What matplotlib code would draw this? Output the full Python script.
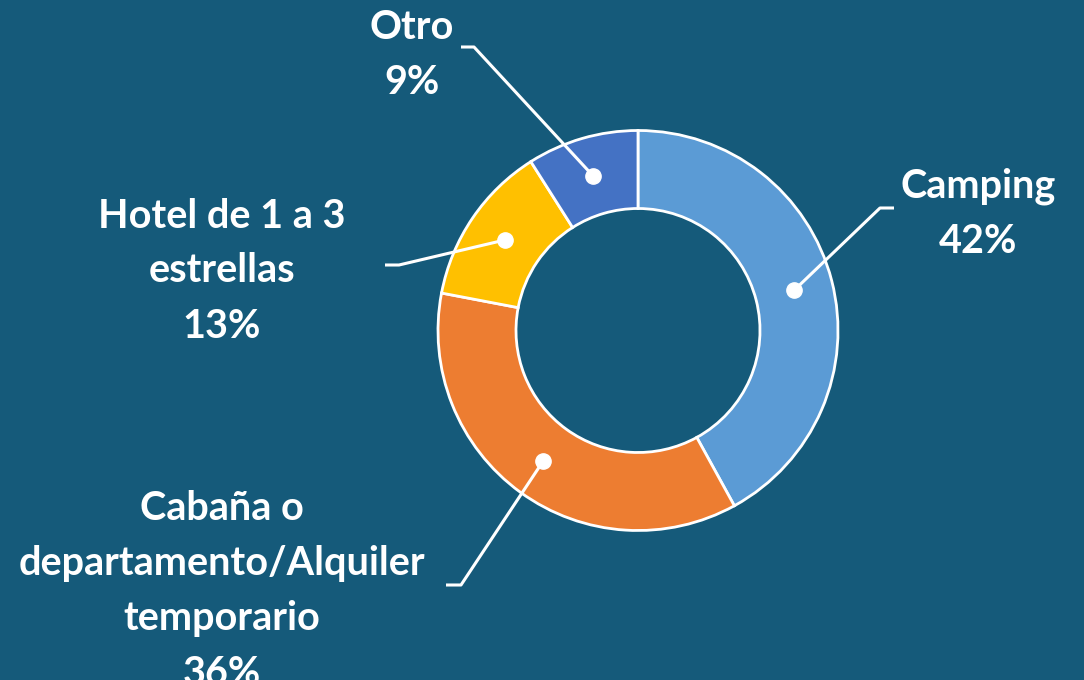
import numpy as np
import matplotlib
matplotlib.use("Agg")
import matplotlib.pyplot as plt

# data
labels = ["Camping", "Cabaña o\ndepartamento/Alquiler\ntemporario", "Hotel de 1 a 3\nestrellas", "Otro"]
values = [42, 36, 13, 9]
colors = ["#5B9BD5", "#ED7D31", "#FFC000", "#4472C4"]

bg = "#155A7A"
W, H = 1084, 680

fig = plt.figure(figsize=(W / 100, H / 100), dpi=100, facecolor=bg)
ax = fig.add_axes([0, 0, 1, 1])
ax.set_facecolor(bg)

cx, cy = 638, H - 330.5
R = 200
ring = 78

wedges, _ = ax.pie(values, colors=colors, startangle=90, counterclock=False,
                   center=(cx, cy), radius=R,
                   wedgeprops=dict(width=ring, edgecolor="white", linewidth=2))
ax.set_xlim(0, W)
ax.set_ylim(0, H)
ax.set_aspect("equal")
ax.set_axis_off()

# leader line elbows and label positions (image px: elbow, end, text center)
layout = [
    ((880, 208), (894, 208), (978, 214)),
    ((461, 585), (446, 585), (222, 591)),
    ((399, 265), (385, 265), (222, 271)),
    ((474, 47), (461, 47), (412, 55)),
]

for w, lab, v, (elb, end, tc) in zip(wedges, labels, values, layout):
    mid = np.deg2rad((w.theta1 + w.theta2) / 2)
    rm = R - ring / 2
    px, py = cx + rm * np.cos(mid), cy + rm * np.sin(mid)
    xs = [px, elb[0], end[0]]
    ys = [py, H - elb[1], H - end[1]]
    ax.plot(xs, ys, color="white", lw=2.2, solid_capstyle="butt")
    ax.plot(px, py, "o", color="white", ms=11)
    ax.text(tc[0], H - tc[1], "%s\n%d%%" % (lab, v), ha="center", va="center",
            color="white", fontsize=28.5, fontweight="bold", family="Lato",
            linespacing=1.6)

fig.savefig("out.png", dpi=100, facecolor=bg)
